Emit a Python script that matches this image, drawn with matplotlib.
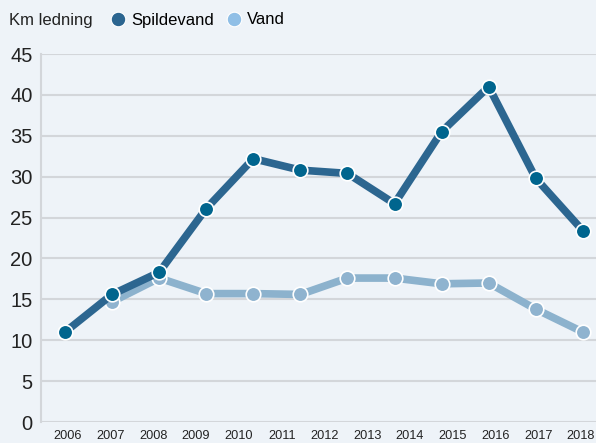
import numpy as np
import matplotlib.pyplot as plt
from matplotlib.lines import Line2D

plt.rcParams['font.family'] = ['Liberation Sans', 'DejaVu Sans']

# data (12 points, 13 year labels on the axis)
years = ['2006', '2007', '2008', '2009', '2010', '2011', '2012',
         '2013', '2014', '2015', '2016', '2017', '2018']
spildevand = [11.0, 15.6, 18.3, 26.1, 32.2, 30.8, 30.4, 26.7, 35.5, 41.0, 29.8, 23.4]
vand = [np.nan, 14.7, 17.6, 15.7, 15.7, 15.6, 17.6, 17.6, 16.9, 17.0, 13.8, 11.0]

bg = '#eef3f8'
dark_line = '#2c6690'
dark_mark = '#00658e'
light_line = '#8cb2cd'
light_mark = '#8fb3cf'

fig = plt.figure(figsize=(5.96, 4.43), dpi=100, facecolor=bg)
ax = fig.add_axes([41/596, 21/443, 1 - 41/596, (422-54)/443])
ax.set_facecolor(bg)

x = np.arange(len(spildevand))
ax.plot(x, vand, color=light_line, lw=5.5, marker='o', ms=10.5,
        mfc=light_mark, mec='white', mew=1.2, zorder=3)
ax.plot(x, spildevand, color=dark_line, lw=5.5, marker='o', ms=10.5,
        mfc=dark_mark, mec='white', mew=1.2, zorder=4)

ax.set_xlim(-0.51, 11.28)
ax.set_ylim(0, 45)
ax.set_yticks(range(0, 46, 5))
ax.set_xticks(np.linspace(0.06, 10.96, 13))
ax.set_xticklabels(years)
ax.tick_params(axis='y', length=0, pad=6, labelsize=14.5, labelcolor='#222222')
ax.tick_params(axis='x', length=0, pad=6, labelsize=9.2, labelcolor='#222222')

ax.grid(axis='y', color='#d3d6da', lw=1.5)
ax.set_axisbelow(True)
for s in ['top', 'right', 'bottom']:
    ax.spines[s].set_visible(False)
ax.spines['left'].set_color('#d3d6da')
ax.spines['left'].set_linewidth(1.5)

fig.text(9/596, 1 - 20/443, 'Km ledning', fontsize=12, va='center', color='#222222')
handles = [Line2D([], [], ls='none', marker='o', ms=10.5, mfc='#2b6590', mec='white', mew=0.8),
           Line2D([], [], ls='none', marker='o', ms=10.5, mfc='#90bfe6', mec='white', mew=0.8)]
fig.legend(handles, ['Spildevand', 'Vand'], loc='center left',
           bbox_to_anchor=(108/596, 1 - 20/443), ncol=2, frameon=False,
           fontsize=12, handletextpad=0.2, columnspacing=0.6, handlelength=1.2,
           borderaxespad=0, borderpad=0)

fig.savefig('out.png', dpi=100, facecolor=bg)
